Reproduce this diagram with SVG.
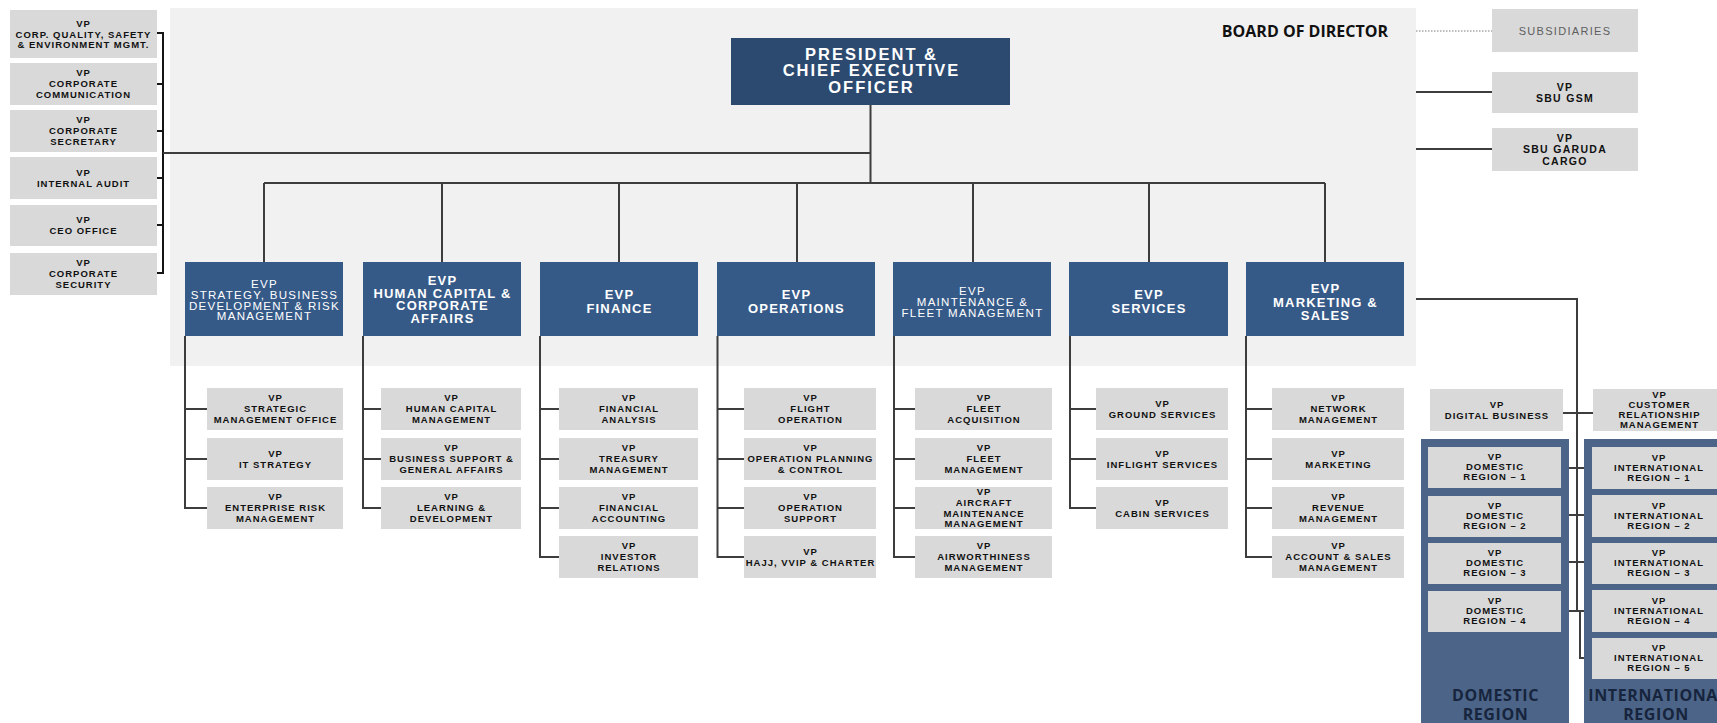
<svg xmlns="http://www.w3.org/2000/svg" width="1717" height="723" viewBox="0 0 1717 723">
<style>
  .panel{fill:#f1f1f1}
  .box{fill:#d9d9d9}
  .evp{fill:#365a88}
  .ceo{fill:#2c4a6f}
  .region{fill:#4b6487}
  .ln{fill:none;stroke:#3d3d3d;stroke-width:2}
  .br{fill:none;stroke:#151515;stroke-width:2}
  .dot{fill:none;stroke:#a8a8a8;stroke-width:1.5;stroke-dasharray:1.5 1.5}
  text{font-family:"Liberation Sans",Arial,sans-serif;text-anchor:middle}
  .vp{font-size:9.5px;font-weight:bold;letter-spacing:1px;fill:#111}
  .sbu{font-size:10.5px;font-weight:bold;letter-spacing:1.3px;fill:#111}
  .sub{font-size:11px;letter-spacing:1.3px;fill:#5e5e5e}
  .tb{font-size:13px;font-weight:bold;letter-spacing:1.2px;fill:#fff}
  .tr{font-size:11.5px;letter-spacing:1.3px;fill:#fff}
  .tc{font-size:16.5px;font-weight:bold;letter-spacing:2px;fill:#fff}
  .bod{font-family:"Open Sans","Liberation Sans",sans-serif;font-size:16px;font-weight:bold;fill:#111;text-anchor:end}
  .lbl{font-family:"Open Sans","Liberation Sans",sans-serif;font-size:16px;font-weight:bold;letter-spacing:0.6px;fill:#17243d}
</style>

<!-- board area -->
<rect class="panel" x="170" y="8" width="1246" height="358"/>
<text class="bod" x="1388" y="36.5">BOARD OF DIRECTOR</text>

<!-- connectors -->
<g id="connectors">
  <path class="br" d="M157,33 H163 V273 H157 M157,84 H163 M157,131 H163 M157,178 H163 M157,225 H163"/>
  <path class="ln" d="M163,153 H870.5 M870.5,105 V183 M264,183 H1325"/>
  <path class="ln" d="M264,183 V262 M442,183 V262 M619,183 V262 M797,183 V262 M973,183 V262 M1149,183 V262 M1325,183 V262"/>
  <path class="ln" d="M185,336 V508 H207 M185,409 H207 M185,459 H207"/>
  <path class="ln" d="M363,336 V508 H381 M363,409 H381 M363,459 H381"/>
  <path class="ln" d="M540,336 V557 H559 M540,409 H559 M540,459 H559 M540,508 H559"/>
  <path class="ln" d="M717.5,336 V557 H744 M717.5,409 H744 M717.5,459 H744 M717.5,508 H744"/>
  <path class="ln" d="M894,336 V557 H915 M894,409 H915 M894,459 H915 M894,508 H915"/>
  <path class="ln" d="M1070,336 V508 H1096 M1070,409 H1096 M1070,459 H1096"/>
  <path class="ln" d="M1246,336 V557 H1272 M1246,409 H1272 M1246,459 H1272 M1246,508 H1272"/>
  <path class="dot" d="M1416,31 H1492"/>
  <path class="ln" d="M1416,92 H1492 M1416,149 H1492"/>
  <path class="ln" d="M1416,299 H1577 V611 M1580,611 V658 H1592"/>
  <path class="ln" d="M1563,413 H1593 M1561,468 H1592 M1561,515 H1592 M1561,562 H1592 M1561,611 H1592"/>
</g>

<!-- staff VPs -->
<g id="vp-qse"><rect class="box" x="10" y="10" width="147" height="48"/>
  <text class="vp"><tspan x="83.5" y="26.5">VP</tspan><tspan x="83.5" y="37.5">CORP. QUALITY, SAFETY</tspan><tspan x="83.5" y="48.2">&amp; ENVIRONMENT MGMT.</tspan></text></g>
<g id="vp-comm"><rect class="box" x="10" y="63" width="147" height="42"/>
  <text class="vp"><tspan x="83.5" y="76.4">VP</tspan><tspan x="83.5" y="87.2">CORPORATE</tspan><tspan x="83.5" y="98">COMMUNICATION</tspan></text></g>
<g id="vp-secretary"><rect class="box" x="10" y="110" width="147" height="42"/>
  <text class="vp"><tspan x="83.5" y="123.4">VP</tspan><tspan x="83.5" y="134.2">CORPORATE</tspan><tspan x="83.5" y="145">SECRETARY</tspan></text></g>
<g id="vp-audit"><rect class="box" x="10" y="157" width="147" height="42"/>
  <text class="vp"><tspan x="83.5" y="175.8">VP</tspan><tspan x="83.5" y="186.6">INTERNAL AUDIT</tspan></text></g>
<g id="vp-ceo-office"><rect class="box" x="10" y="205" width="147" height="41"/>
  <text class="vp"><tspan x="83.5" y="223.3">VP</tspan><tspan x="83.5" y="234.1">CEO OFFICE</tspan></text></g>
<g id="vp-security"><rect class="box" x="10" y="253" width="147" height="42"/>
  <text class="vp"><tspan x="83.5" y="266.4">VP</tspan><tspan x="83.5" y="277.2">CORPORATE</tspan><tspan x="83.5" y="288">SECURITY</tspan></text></g>

<!-- CEO -->
<g id="ceo"><rect class="ceo" x="731" y="38" width="279" height="67"/>
  <text class="tc"><tspan x="871.5" y="60">PRESIDENT &amp;</tspan><tspan x="871.5" y="76">CHIEF EXECUTIVE</tspan><tspan x="871.5" y="92.5">OFFICER</tspan></text></g>

<!-- subsidiaries / SBU -->
<g id="subsidiaries"><rect class="box" x="1492" y="9" width="146" height="43"/>
  <text class="sub" x="1565" y="34.5">SUBSIDIARIES</text></g>
<g id="sbu-gsm"><rect class="box" x="1492" y="72" width="146" height="41"/>
  <text class="sbu"><tspan x="1565" y="90.5">VP</tspan><tspan x="1565" y="101.5">SBU GSM</tspan></text></g>
<g id="sbu-cargo"><rect class="box" x="1492" y="128" width="146" height="43"/>
  <text class="sbu"><tspan x="1565" y="141.5">VP</tspan><tspan x="1565" y="153">SBU GARUDA</tspan><tspan x="1565" y="164.5">CARGO</tspan></text></g>

<!-- EVPs -->
<g id="evp-strategy"><rect class="evp" x="185" y="262" width="158" height="74"/>
  <text class="tr"><tspan x="264.5" y="288">EVP</tspan><tspan x="264.5" y="298.8">STRATEGY, BUSINESS</tspan><tspan x="264.5" y="309.6">DEVELOPMENT &amp; RISK</tspan><tspan x="264.5" y="320.4">MANAGEMENT</tspan></text></g>
<g id="evp-hc"><rect class="evp" x="363" y="262" width="158" height="74"/>
  <text class="tb"><tspan x="442.5" y="285">EVP</tspan><tspan x="442.5" y="297.5">HUMAN CAPITAL &amp;</tspan><tspan x="442.5" y="310">CORPORATE</tspan><tspan x="442.5" y="322.5">AFFAIRS</tspan></text></g>
<g id="evp-finance"><rect class="evp" x="540" y="262" width="158" height="74"/>
  <text class="tb"><tspan x="619.5" y="299.3">EVP</tspan><tspan x="619.5" y="312.7">FINANCE</tspan></text></g>
<g id="evp-operations"><rect class="evp" x="717" y="262" width="158" height="74"/>
  <text class="tb"><tspan x="796.5" y="299.3">EVP</tspan><tspan x="796.5" y="312.7">OPERATIONS</tspan></text></g>
<g id="evp-maintenance"><rect class="evp" x="893" y="262" width="158" height="74"/>
  <text class="tr"><tspan x="972.5" y="295">EVP</tspan><tspan x="972.5" y="306">MAINTENANCE &amp;</tspan><tspan x="972.5" y="317">FLEET MANAGEMENT</tspan></text></g>
<g id="evp-services"><rect class="evp" x="1069" y="262" width="159" height="74"/>
  <text class="tb"><tspan x="1149" y="299.3">EVP</tspan><tspan x="1149" y="312.7">SERVICES</tspan></text></g>
<g id="evp-marketing"><rect class="evp" x="1246" y="262" width="158" height="74"/>
  <text class="tb"><tspan x="1325.5" y="293.3">EVP</tspan><tspan x="1325.5" y="306.5">MARKETING &amp;</tspan><tspan x="1325.5" y="319.5">SALES</tspan></text></g>

<!-- strategy column -->
<g id="vp-smo"><rect class="box" x="207" y="388" width="136" height="42"/>
  <text class="vp"><tspan x="275.5" y="401.4">VP</tspan><tspan x="275.5" y="412.2">STRATEGIC</tspan><tspan x="275.5" y="423">MANAGEMENT OFFICE</tspan></text></g>
<g id="vp-it"><rect class="box" x="207" y="438" width="136" height="42"/>
  <text class="vp"><tspan x="275.5" y="456.8">VP</tspan><tspan x="275.5" y="467.6">IT STRATEGY</tspan></text></g>
<g id="vp-erm"><rect class="box" x="207" y="487" width="136" height="42"/>
  <text class="vp"><tspan x="275.5" y="500.4">VP</tspan><tspan x="275.5" y="511.2">ENTERPRISE RISK</tspan><tspan x="275.5" y="522">MANAGEMENT</tspan></text></g>

<!-- human capital column -->
<g id="vp-hcm"><rect class="box" x="381" y="388" width="140" height="42"/>
  <text class="vp"><tspan x="451.5" y="401.4">VP</tspan><tspan x="451.5" y="412.2">HUMAN CAPITAL</tspan><tspan x="451.5" y="423">MANAGEMENT</tspan></text></g>
<g id="vp-bsga"><rect class="box" x="381" y="438" width="140" height="42"/>
  <text class="vp"><tspan x="451.5" y="451.4">VP</tspan><tspan x="451.5" y="462.2">BUSINESS SUPPORT &amp;</tspan><tspan x="451.5" y="473">GENERAL AFFAIRS</tspan></text></g>
<g id="vp-ld"><rect class="box" x="381" y="487" width="140" height="42"/>
  <text class="vp"><tspan x="451.5" y="500.4">VP</tspan><tspan x="451.5" y="511.2">LEARNING &amp;</tspan><tspan x="451.5" y="522">DEVELOPMENT</tspan></text></g>

<!-- finance column -->
<g id="vp-fa"><rect class="box" x="559" y="388" width="139" height="42"/>
  <text class="vp"><tspan x="629" y="401.4">VP</tspan><tspan x="629" y="412.2">FINANCIAL</tspan><tspan x="629" y="423">ANALYSIS</tspan></text></g>
<g id="vp-treasury"><rect class="box" x="559" y="438" width="139" height="42"/>
  <text class="vp"><tspan x="629" y="451.4">VP</tspan><tspan x="629" y="462.2">TREASURY</tspan><tspan x="629" y="473">MANAGEMENT</tspan></text></g>
<g id="vp-accounting"><rect class="box" x="559" y="487" width="139" height="42"/>
  <text class="vp"><tspan x="629" y="500.4">VP</tspan><tspan x="629" y="511.2">FINANCIAL</tspan><tspan x="629" y="522">ACCOUNTING</tspan></text></g>
<g id="vp-ir"><rect class="box" x="559" y="536" width="139" height="42"/>
  <text class="vp"><tspan x="629" y="549.4">VP</tspan><tspan x="629" y="560.2">INVESTOR</tspan><tspan x="629" y="571">RELATIONS</tspan></text></g>

<!-- operations column -->
<g id="vp-flight"><rect class="box" x="744" y="388" width="132" height="42"/>
  <text class="vp"><tspan x="810.5" y="401.4">VP</tspan><tspan x="810.5" y="412.2">FLIGHT</tspan><tspan x="810.5" y="423">OPERATION</tspan></text></g>
<g id="vp-opc"><rect class="box" x="744" y="438" width="132" height="42"/>
  <text class="vp"><tspan x="810.5" y="451.4">VP</tspan><tspan x="810.5" y="462.2">OPERATION PLANNING</tspan><tspan x="810.5" y="473">&amp; CONTROL</tspan></text></g>
<g id="vp-opsupport"><rect class="box" x="744" y="487" width="132" height="42"/>
  <text class="vp"><tspan x="810.5" y="500.4">VP</tspan><tspan x="810.5" y="511.2">OPERATION</tspan><tspan x="810.5" y="522">SUPPORT</tspan></text></g>
<g id="vp-hajj"><rect class="box" x="744" y="536" width="132" height="42"/>
  <text class="vp"><tspan x="810.5" y="554.8">VP</tspan><tspan x="810.5" y="565.6">HAJJ, VVIP &amp; CHARTER</tspan></text></g>

<!-- maintenance column -->
<g id="vp-fleet-acq"><rect class="box" x="915" y="388" width="137" height="42"/>
  <text class="vp"><tspan x="984" y="401.4">VP</tspan><tspan x="984" y="412.2">FLEET</tspan><tspan x="984" y="423">ACQUISITION</tspan></text></g>
<g id="vp-fleet-mgmt"><rect class="box" x="915" y="438" width="137" height="42"/>
  <text class="vp"><tspan x="984" y="451.4">VP</tspan><tspan x="984" y="462.2">FLEET</tspan><tspan x="984" y="473">MANAGEMENT</tspan></text></g>
<g id="vp-acm"><rect class="box" x="915" y="487" width="137" height="42"/>
  <text class="vp"><tspan x="984" y="495">VP</tspan><tspan x="984" y="505.8">AIRCRAFT</tspan><tspan x="984" y="516.6">MAINTENANCE</tspan><tspan x="984" y="527.4">MANAGEMENT</tspan></text></g>
<g id="vp-airworthiness"><rect class="box" x="915" y="536" width="137" height="42"/>
  <text class="vp"><tspan x="984" y="549.4">VP</tspan><tspan x="984" y="560.2">AIRWORTHINESS</tspan><tspan x="984" y="571">MANAGEMENT</tspan></text></g>

<!-- services column -->
<g id="vp-ground"><rect class="box" x="1096" y="388" width="132" height="42"/>
  <text class="vp"><tspan x="1162.5" y="406.8">VP</tspan><tspan x="1162.5" y="417.6">GROUND SERVICES</tspan></text></g>
<g id="vp-inflight"><rect class="box" x="1096" y="438" width="132" height="42"/>
  <text class="vp"><tspan x="1162.5" y="456.8">VP</tspan><tspan x="1162.5" y="467.6">INFLIGHT SERVICES</tspan></text></g>
<g id="vp-cabin"><rect class="box" x="1096" y="487" width="132" height="42"/>
  <text class="vp"><tspan x="1162.5" y="505.8">VP</tspan><tspan x="1162.5" y="516.6">CABIN SERVICES</tspan></text></g>

<!-- marketing column -->
<g id="vp-network"><rect class="box" x="1272" y="388" width="132" height="42"/>
  <text class="vp"><tspan x="1338.5" y="401.4">VP</tspan><tspan x="1338.5" y="412.2">NETWORK</tspan><tspan x="1338.5" y="423">MANAGEMENT</tspan></text></g>
<g id="vp-marketing"><rect class="box" x="1272" y="438" width="132" height="42"/>
  <text class="vp"><tspan x="1338.5" y="456.8">VP</tspan><tspan x="1338.5" y="467.6">MARKETING</tspan></text></g>
<g id="vp-revenue"><rect class="box" x="1272" y="487" width="132" height="42"/>
  <text class="vp"><tspan x="1338.5" y="500.4">VP</tspan><tspan x="1338.5" y="511.2">REVENUE</tspan><tspan x="1338.5" y="522">MANAGEMENT</tspan></text></g>
<g id="vp-account"><rect class="box" x="1272" y="536" width="132" height="42"/>
  <text class="vp"><tspan x="1338.5" y="549.4">VP</tspan><tspan x="1338.5" y="560.2">ACCOUNT &amp; SALES</tspan><tspan x="1338.5" y="571">MANAGEMENT</tspan></text></g>

<g id="vp-digital"><rect class="box" x="1430" y="389" width="133" height="42"/>
  <text class="vp"><tspan x="1497" y="407.8">VP</tspan><tspan x="1497" y="418.6">DIGITAL BUSINESS</tspan></text></g>
<g id="vp-crm"><rect class="box" x="1593" y="389" width="132" height="42"/>
  <text class="vp"><tspan x="1659.5" y="397.5">VP</tspan><tspan x="1659.5" y="407.5">CUSTOMER</tspan><tspan x="1659.5" y="417.5">RELATIONSHIP</tspan><tspan x="1659.5" y="427.5">MANAGEMENT</tspan></text></g>

<!-- domestic region -->
<g id="domestic-region">
  <rect class="region" x="1421" y="439" width="148" height="290"/>
  <text class="lbl"><tspan x="1495.5" y="701">DOMESTIC</tspan><tspan x="1495.5" y="720">REGION</tspan></text>
</g>
<g id="vp-dom-1"><rect class="box" x="1428" y="447" width="133" height="41"/>
  <text class="vp"><tspan x="1495" y="460.2">VP</tspan><tspan x="1495" y="470.2">DOMESTIC</tspan><tspan x="1495" y="480.2">REGION – 1</tspan></text></g>
<g id="vp-dom-2"><rect class="box" x="1428" y="496" width="133" height="41"/>
  <text class="vp"><tspan x="1495" y="509.2">VP</tspan><tspan x="1495" y="519.2">DOMESTIC</tspan><tspan x="1495" y="529.2">REGION – 2</tspan></text></g>
<g id="vp-dom-3"><rect class="box" x="1428" y="543" width="133" height="41"/>
  <text class="vp"><tspan x="1495" y="556.2">VP</tspan><tspan x="1495" y="566.2">DOMESTIC</tspan><tspan x="1495" y="576.2">REGION – 3</tspan></text></g>
<g id="vp-dom-4"><rect class="box" x="1428" y="591" width="133" height="41"/>
  <text class="vp"><tspan x="1495" y="604.2">VP</tspan><tspan x="1495" y="614.2">DOMESTIC</tspan><tspan x="1495" y="624.2">REGION – 4</tspan></text></g>

<!-- international region -->
<g id="international-region">
  <rect class="region" x="1584" y="439" width="150" height="290"/>
  <text class="lbl"><tspan x="1658" y="701">INTERNATIONAL</tspan><tspan x="1656" y="720">REGION</tspan></text>
</g>
<g id="vp-int-1"><rect class="box" x="1592" y="447" width="132" height="42"/>
  <text class="vp"><tspan x="1659" y="460.7">VP</tspan><tspan x="1659" y="470.7">INTERNATIONAL</tspan><tspan x="1659" y="480.7">REGION – 1</tspan></text></g>
<g id="vp-int-2"><rect class="box" x="1592" y="495" width="132" height="42"/>
  <text class="vp"><tspan x="1659" y="508.7">VP</tspan><tspan x="1659" y="518.7">INTERNATIONAL</tspan><tspan x="1659" y="528.7">REGION – 2</tspan></text></g>
<g id="vp-int-3"><rect class="box" x="1592" y="543" width="132" height="41"/>
  <text class="vp"><tspan x="1659" y="556.2">VP</tspan><tspan x="1659" y="566.2">INTERNATIONAL</tspan><tspan x="1659" y="576.2">REGION – 3</tspan></text></g>
<g id="vp-int-4"><rect class="box" x="1592" y="590" width="132" height="42"/>
  <text class="vp"><tspan x="1659" y="603.7">VP</tspan><tspan x="1659" y="613.7">INTERNATIONAL</tspan><tspan x="1659" y="623.7">REGION – 4</tspan></text></g>
<g id="vp-int-5"><rect class="box" x="1592" y="638" width="132" height="41"/>
  <text class="vp"><tspan x="1659" y="651.2">VP</tspan><tspan x="1659" y="661.2">INTERNATIONAL</tspan><tspan x="1659" y="671.2">REGION – 5</tspan></text></g>
</svg>
